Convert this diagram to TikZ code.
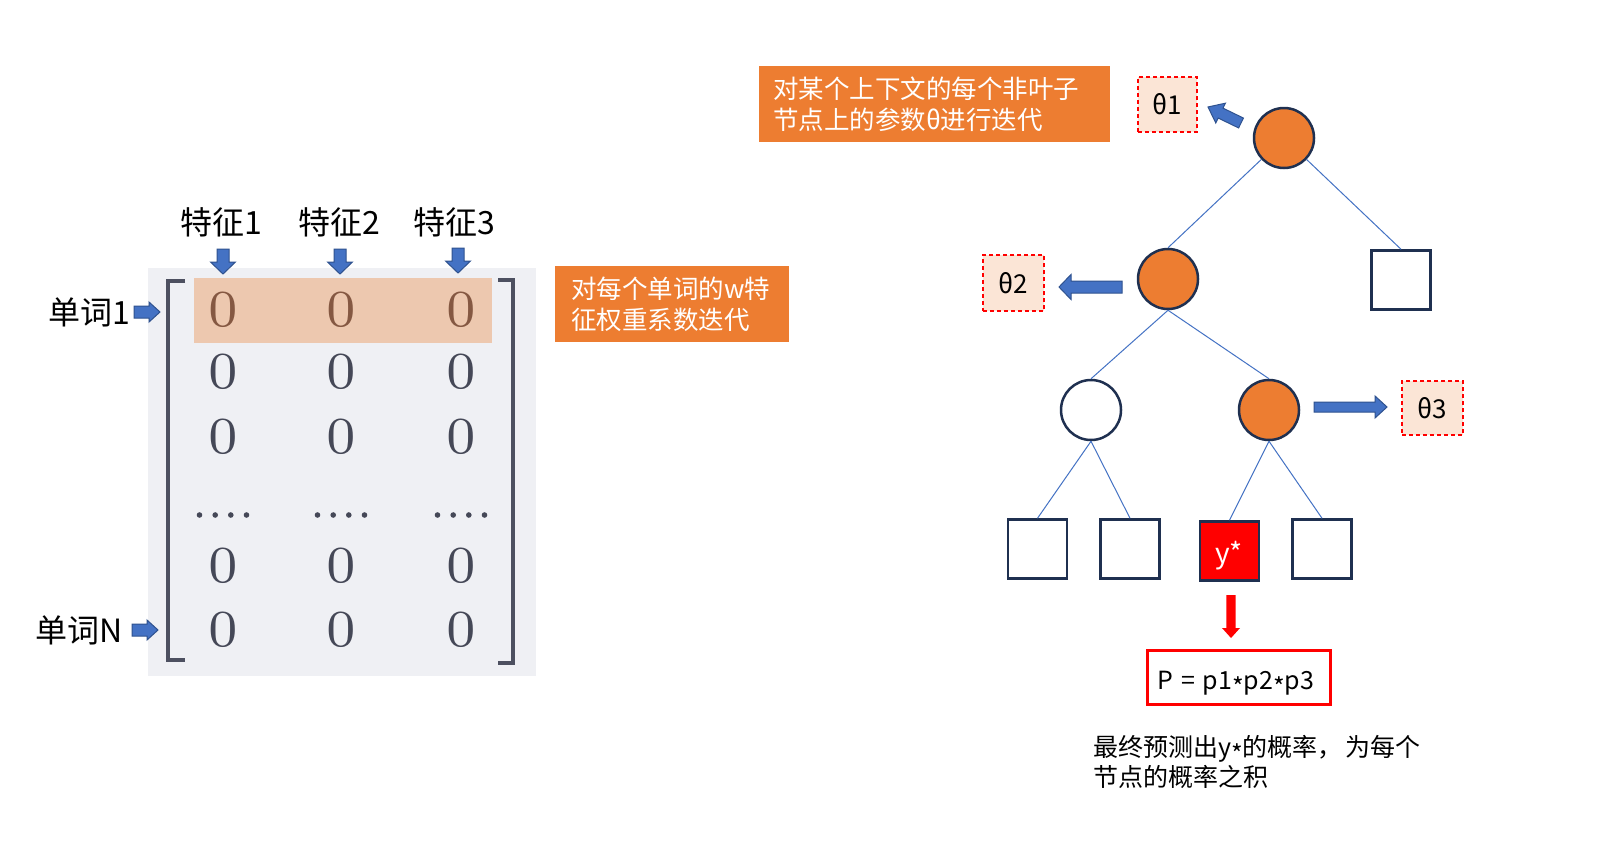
\documentclass[tikz,border=0pt]{standalone}
\usepackage{fontspec}
\newfontfamily\cjk{Noto Sans CJK SC}
\newfontfamily\zerofont{lmroman7-regular.otf}
\usetikzlibrary{calc}
\definecolor{orangeA}{HTML}{ED7D31}
\definecolor{thetafill}{HTML}{FBE5D6}
\definecolor{navy}{HTML}{1F3050}
\definecolor{edgeblue}{HTML}{4472C4}
\definecolor{arrowblue}{HTML}{4472C4}
\definecolor{arrowdark}{HTML}{2F528F}
\definecolor{matbg}{HTML}{EFF0F4}
\definecolor{hilite}{HTML}{EDC8AF}
\definecolor{zerocol}{HTML}{454857}
\definecolor{zerobrown}{HTML}{855842}
\definecolor{bracketcol}{HTML}{4D5060}
\newcommand\midast{\raisebox{-0.28em}{*}}
\newcommand\blockarrow[8][]{%
  \begin{scope}[shift={(#2,#3)},rotate=#4]
    \draw[barrow,#1] (0,-#6) -- ({#5-#8},-#6) -- ({#5-#8},-#7) -- (#5,0) -- ({#5-#8},#7) -- ({#5-#8},#6) -- (0,#6) -- cycle;
  \end{scope}}
\tikzset{
  label30/.style={font=\cjk\fontsize{32}{38}\selectfont, inner sep=0pt},
  notebox/.style={fill=orangeA, text=white, font=\cjk\fontsize{25.5}{31}\selectfont, align=left, inner ysep=0pt},
  thetabox/.style={draw=red, dashed, dash pattern=on 4pt off 3pt, line width=1.2pt, fill=thetafill, font=\cjk\fontsize{26}{30}\selectfont, inner sep=0pt},
  inode/.style={circle, draw=navy, line width=2.5pt, minimum size=60pt, inner sep=0pt, fill=orangeA},
  leafnode/.style={rectangle, draw=navy, line width=2.5pt, minimum size=59pt, inner sep=0pt, fill=white},
  edge/.style={draw=edgeblue, line width=1pt},
  barrow/.style={fill=arrowblue, draw=arrowdark, line width=1pt},
  zero/.style={font=\zerofont\fontsize{52}{60}\selectfont, text=zerocol, inner sep=0pt},
  bracket/.style={draw=bracketcol, line width=4pt, line join=miter},
}
\begin{document}
\begin{tikzpicture}[x=1pt,y=-1pt]
\fill[white] (0,0) rectangle (1602,862);
\useasboundingbox (0,0) rectangle (1602,862);

% ---------- matrix ----------
\fill[matbg] (148,268) rectangle (536,676);
\fill[hilite] (194,278) rectangle (492,343);
\draw[bracket] (185,281) -- (168,281) -- (168,660) -- (185,660);
\draw[bracket] (498,280) -- (513,280) -- (513,663) -- (498,663);
\foreach \c/\x in {1/223,2/341,3/461}{
  \node[zero, text=zerobrown] (z1\c) at (\x,310) {0};
  \node[zero] (z2\c) at (\x,372) {0};
  \node[zero] (z3\c) at (\x,436.5) {0};
  \node[zero] (z5\c) at (\x,566) {0};
  \node[zero] (z6\c) at (\x,629.5) {0};
  \foreach \d in {-23.5,-7.8,7.8,23.5}{
    \fill[zerocol] ({\x+\d},515) circle (2.8);
  }
}
\node[label30] (f1) at (221,222) {特征1};
\node[label30] (f2) at (339,222) {特征2};
\node[label30] (f3) at (454,222) {特征3};
\blockarrow{223}{249}{-90}{25}{6}{12.5}{12}
\blockarrow{340}{249}{-90}{25}{6}{12.5}{12}
\blockarrow{458}{248}{-90}{25}{6}{12.5}{12}
\node[label30, anchor=east] (w1) at (130,312) {单词1};
\node[label30, anchor=east] (wN) at (123,630) {单词N};
\blockarrow{134}{312}{0}{26}{6}{10}{11}
\blockarrow{132}{630}{0}{26}{6}{10}{11}

\node[notebox, text width=202pt, inner xsep=16pt, minimum height=76pt] (note2) at (672,304) {对每个单词的w特\\征权重系数迭代};

% ---------- tree ----------
\node[notebox, text width=323pt, inner xsep=14pt, minimum height=76pt] (note1) at (934.5,104) {对某个上下文的每个非叶子\\节点上的参数θ进行迭代};

\node[inode] (root) at (1284,138) {};
\node[inode] (n2) at (1168,279) {};
\node[leafnode] (sq) at (1401,280) {};
\node[inode, fill=white] (n3L) at (1091,410) {};
\node[inode] (n3R) at (1269,410) {};
\node[leafnode] (l1) at (1037.5,549) {};
\node[leafnode] (l2) at (1130,549) {};
\node[leafnode, fill=red] (l3) at (1229.5,551) {};
\node[leafnode] (l4) at (1322,549) {};
\node[text=white, font=\cjk\fontsize{28}{30}\selectfont, inner sep=0pt] (ystar) at (1229,556) {y*};

\draw[edge] (root) -- (n2.north);
\draw[edge] (root) -- (sq.north);
\draw[edge] (n2.south) -- (n3L.north);
\draw[edge] (n2.south) -- (n3R.north);
\draw[edge] (n3L.south) -- (l1.north);
\draw[edge] (n3L.south) -- (l2.north);
\draw[edge] (n3R.south) -- (l3.north);
\draw[edge] (n3R.south) -- (l4.north);

\node[thetabox, minimum width=59pt, minimum height=55pt] (t1) at (1167.5,104.5) {θ1};
\node[thetabox, minimum width=61pt, minimum height=56pt] (t2) at (1013.5,283) {θ2};
\node[thetabox, minimum width=61pt, minimum height=54pt] (t3) at (1432.5,408) {θ3};

\blockarrow{1241}{123}{154.1}{36.7}{5.5}{11}{14}
\blockarrow{1122}{287}{180}{63}{6}{12.5}{12}
\blockarrow{1314}{407}{0}{73}{5}{11}{12}
\blockarrow[fill=red,draw=none]{1231}{595}{-90}{43}{4.6}{9}{10}

\node[draw=red, line width=3pt, fill=white, minimum width=183pt, minimum height=54pt] (pbox) at (1239,677.5) {};
\node[font=\cjk\fontsize{25}{28}\selectfont, inner sep=0pt] (ptext) at (1236,684) {P\hspace{0.3em}=\hspace{0.3em}p1\midast p2\midast p3};

\node[anchor=west, align=left, inner sep=0pt, font=\cjk\fontsize{25}{30}\selectfont] (cap) at (1093,762) {最终预测出y\midast 的概率，\hspace{0.1em}为每个\\节点的概率之积};
\end{tikzpicture}
\end{document}
